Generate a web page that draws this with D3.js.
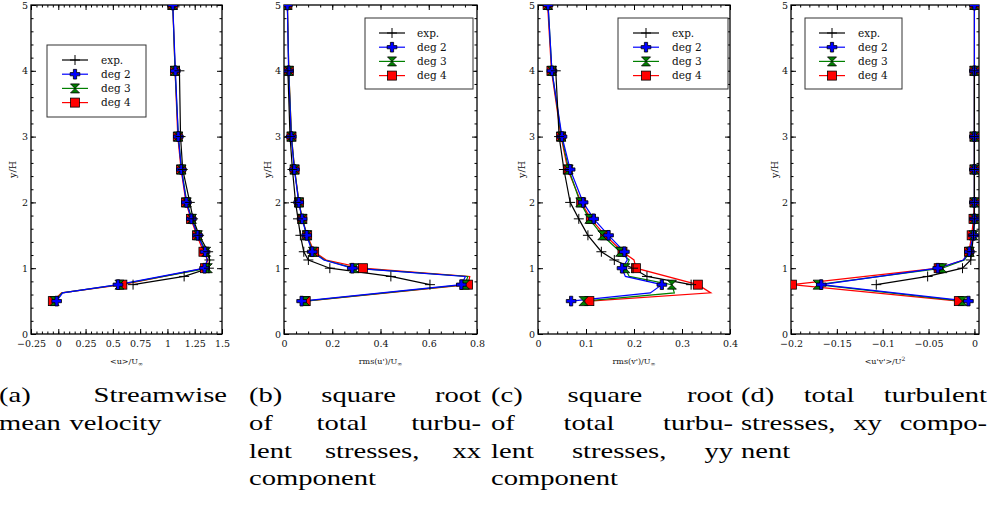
<!DOCTYPE html>
<html><head><meta charset="utf-8">
<script src="https://cdn.jsdelivr.net/npm/d3@7"></script>
<style>body{margin:0;background:#fff}svg{display:block}</style>
</head><body>
<script>
// ---------- data ----------
const simY    = [0.5, 0.625, 0.75, 0.875, 1, 1.125, 1.25, 1.5, 1.75, 2, 2.5, 3, 4, 5];
const markerY = [0.5, 0.75, 1, 1.25, 1.5, 1.75, 2, 2.5, 3, 4, 5];
const expY    = [0.75, 0.875, 1, 1.125, 1.25, 1.5, 1.75, 2, 2.5, 3, 4];
const yTicks  = [0, 1, 2, 3, 4, 5];

// (a) <u>/U
const uExp  = [0.685, 1.153, 1.38, 1.385, 1.373, 1.29, 1.235, 1.205, 1.14, 1.12, 1.11];
const uDeg2 = [-0.015, 0.04, 0.547, null, 1.34, 1.365, 1.345, 1.278, 1.22, 1.174, 1.128, 1.10, 1.073, 1.049];
const uDeg3 = [-0.034, 0.035, 0.56, null, 1.37, 1.39, 1.355, 1.28, 1.225, 1.178, 1.13, 1.10, 1.07, 1.049];
const uDeg4 = [-0.05, 0.03, 0.587, null, 1.345, 1.37, 1.33, 1.27, 1.215, 1.17, 1.125, 1.095, 1.07, 1.049];
const aTicks = [-0.25, 0, 0.25, 0.5, 0.75, 1, 1.25, 1.5];
const aLabels = ["\u22120.25", "0", "0.25", "0.5", "0.75", "1", "1.25", "1.5"];

// (b) rms(u')/U
const uuExp  = [0.605, 0.443, 0.19, 0.101, 0.082, 0.068, 0.058, 0.048, 0.035, 0.025, 0.016];
const uuDeg2 = [0.073, null, 0.735, 0.752, 0.283, 0.165, 0.117, 0.094, 0.075, 0.061, 0.043, 0.03, 0.019, 0.014];
const uuDeg3 = [0.087, null, 0.75, 0.762, 0.29, 0.168, 0.12, 0.095, 0.076, 0.062, 0.044, 0.031, 0.02, 0.014];
const uuDeg4 = [0.09, null, 0.763, 0.77, 0.327, 0.175, 0.125, 0.096, 0.076, 0.062, 0.044, 0.031, 0.02, 0.014];
const bTicks = [0, 0.2, 0.4, 0.6, 0.8];
const bLabels = ["0", "0.2", "0.4", "0.6", "0.8"];

// (c) rms(v')/U
const vvExp  = [0.319, 0.227, 0.198, 0.159, 0.132, 0.104, 0.085, 0.067, 0.054, 0.044, 0.037];
const vvDeg2 = [0.069, 0.234, 0.258, 0.182, 0.175, 0.186, 0.18, 0.147, 0.116, 0.094, 0.067, 0.05, 0.029, 0.021];
const vvDeg3 = [0.095, 0.284, 0.279, 0.19, 0.182, 0.19, 0.171, 0.134, 0.107, 0.088, 0.064, 0.049, 0.029, 0.021];
const vvDeg4 = [0.107, 0.36, 0.333, null, 0.204, 0.2, 0.176, 0.14, 0.11, 0.09, 0.062, 0.048, 0.028, 0.02];
const cTicks = [0, 0.1, 0.2, 0.3, 0.4];
const cLabels = ["0", "0.1", "0.2", "0.3", "0.4"];

// (d) <u'v'>/U^2
const uvExp  = [-0.107, -0.051, -0.013, -0.004, -0.003, -0.001, 0, 0, 0, 0, 0];
const uvDeg2 = [-0.0065, null, -0.167, null, -0.04, -0.012, -0.0055, -0.001, 0, 0, 0, 0, 0, 0];
const uvDeg3 = [-0.013, null, -0.171, null, -0.035, -0.011, -0.005, -0.001, 0, 0, 0, 0, 0, 0];
const uvDeg4 = [-0.017, null, -0.199, null, -0.039, -0.012, -0.006, -0.003, -0.001, 0, 0, 0, 0, 0];
const dTicks = [-0.2, -0.15, -0.1, -0.05, 0];
const dLabels = ["\u22120.2", "\u22120.15", "\u22120.1", "\u22120.05", "0"];

const seriesNames = ["exp.", "deg 2", "deg 3", "deg 4"];

const captionA = ["(a) Streamwise", "mean velocity"];
const captionB = ["(b) square root", "of total turbu-", "lent stresses, xx", "component"];
const captionC = ["(c) square root", "of total turbu-", "lent stresses, yy", "component"];
const captionD = ["(d) total turbulent", "stresses, xy compo-", "nent"];

// ---------- layout ----------
const W = 988, H = 514;
const svg = d3.select("body").append("svg").attr("width", W).attr("height", H);
const PT = 5, PB = 334;
const y = d3.scaleLinear().domain([0, 5]).range([PB, PT]);
const TF = "'DejaVu Serif', 'Liberation Serif', serif";

const panels = [
  {dom: [-0.25, 1.5], rng: [31, 222], ticks: aTicks, labels: aLabels, minor: 0.05,
   exp: uExp, d2: uDeg2, d3: uDeg3, d4: uDeg4, xl: ["<u>/U", "\u221E", "sub"], ylx: 13,
   leg: {x: 47, y: 45, w: 99, h: 72, lx: 62, tx: 101}},
  {dom: [0, 0.8], rng: [284, 477], ticks: bTicks, labels: bLabels, minor: 0.05,
   exp: uuExp, d2: uuDeg2, d3: uuDeg3, d4: uuDeg4, xl: ["rms(u')/U", "\u221E", "sub"], ylx: 268,
   leg: {x: 365, y: 18, w: 108, h: 71, lx: 379, tx: 417}},
  {dom: [0, 0.4], rng: [538, 730], ticks: cTicks, labels: cLabels, minor: 0.02,
   exp: vvExp, d2: vvDeg2, d3: vvDeg3, d4: vvDeg4, xl: ["rms(v')/U", "\u221E", "sub"], ylx: 522,
   leg: {x: 618, y: 18, w: 110, h: 71, lx: 633, tx: 672}},
  {dom: [-0.2, 0.005], rng: [791, 979], ticks: dTicks, labels: dLabels, minor: 0.01,
   exp: uvExp, d2: uvDeg2, d3: uvDeg3, d4: uvDeg4, xl: ["<u'v'>/U", "2", "sup"], ylx: 775,
   leg: {x: 805, y: 18, w: 97, h: 71, lx: 819, tx: 858}}
];

const COL = {exp: "#000", d2: "#0000ff", d3: "#008000", d4: "#ff0000"};

function drawMarker(g, type, cx, cy) {
  if (type === "exp") {
    g.append("path").attr("d", `M${cx-5},${cy}H${cx+5}M${cx},${cy-5}V${cy+5}`)
      .attr("stroke", "#000").attr("stroke-width", 1).attr("fill", "none");
  } else if (type === "d2") {
    g.append("path").attr("d", d3.symbol(d3.symbolCross, 52)())
      .attr("transform", `translate(${cx},${cy})`)
      .attr("fill", COL.d2).attr("stroke", "#000").attr("stroke-width", 0.8);
  } else if (type === "d3") {
    g.append("path").attr("d", `M${cx-4.5},${cy-4.5}L${cx+4.5},${cy-4.5}L${cx-4.5},${cy+4.5}L${cx+4.5},${cy+4.5}Z`)
      .attr("fill", COL.d3).attr("stroke", "#000").attr("stroke-width", 0.8);
  } else {
    g.append("rect").attr("x", cx-4.5).attr("y", cy-4.5).attr("width", 9).attr("height", 9)
      .attr("fill", COL.d4).attr("stroke", "#000").attr("stroke-width", 0.8);
  }
}

function minorTicks(dom, step) {
  const out = [];
  const n0 = Math.ceil(dom[0] / step - 1e-9), n1 = Math.floor(dom[1] / step + 1e-9);
  for (let k = n0; k <= n1; k++) out.push(+(k * step).toFixed(6));
  return out;
}
const yMinor = minorTicks([0, 5], 0.2);

panels.forEach(p => {
  const x = d3.scaleLinear().domain(p.dom).range(p.rng);
  const g = svg.append("g");
  const clipId = "clip" + p.rng[0];
  svg.append("clipPath").attr("id", clipId).append("rect")
    .attr("x", p.rng[0]).attr("y", PT).attr("width", p.rng[1] - p.rng[0]).attr("height", PB - PT);

  const xMinor = minorTicks(p.dom, p.minor);
  const styleAxis = a => { a.attr("font-family", null).attr("font-size", null);
    a.select(".domain").remove(); a.selectAll("line").attr("stroke", "#000").attr("stroke-width", 1);
    a.selectAll("text").style("font-family", TF).style("font-size", "9.5px").attr("fill", "#111"); };
  g.append("g").attr("transform", `translate(0,${PB})`)
    .call(d3.axisBottom(x).tickValues(p.ticks).tickSize(-5).tickPadding(6).tickFormat((d, i) => p.labels[i])).call(styleAxis);
  g.append("g").attr("transform", `translate(0,${PB})`)
    .call(d3.axisBottom(x).tickValues(xMinor).tickSize(-2.5).tickFormat("")).call(styleAxis);
  g.append("g").attr("transform", `translate(0,${PT})`)
    .call(d3.axisTop(x).tickValues(p.ticks).tickSize(-5).tickFormat("")).call(styleAxis);
  g.append("g").attr("transform", `translate(0,${PT})`)
    .call(d3.axisTop(x).tickValues(xMinor).tickSize(-2.5).tickFormat("")).call(styleAxis);
  g.append("g").attr("transform", `translate(${p.rng[0]},0)`)
    .call(d3.axisLeft(y).tickValues(yTicks).tickSize(-5).tickPadding(3).tickFormat(d3.format("d"))).call(styleAxis);
  g.append("g").attr("transform", `translate(${p.rng[0]},0)`)
    .call(d3.axisLeft(y).tickValues(yMinor).tickSize(-2.5).tickFormat("")).call(styleAxis);
  g.append("g").attr("transform", `translate(${p.rng[1]},0)`)
    .call(d3.axisRight(y).tickValues(yTicks).tickSize(-5).tickFormat("")).call(styleAxis);
  g.append("g").attr("transform", `translate(${p.rng[1]},0)`)
    .call(d3.axisRight(y).tickValues(yMinor).tickSize(-2.5).tickFormat("")).call(styleAxis);
  g.append("rect").attr("x", p.rng[0]).attr("y", PT).attr("width", p.rng[1] - p.rng[0]).attr("height", PB - PT)
    .attr("fill", "none").attr("stroke", "#000").attr("stroke-width", 1.3);

  // axis titles
  const xc = (p.rng[0] + p.rng[1]) / 2;
  const xt = g.append("text").attr("x", xc).attr("y", 364).attr("text-anchor", "middle")
    .style("font-family", TF).style("font-size", "8px").attr("fill", "#111").text(p.xl[0]);
  xt.append("tspan").style("font-size", "6px").attr("dy", p.xl[2] === "sub" ? 2 : -3).text(p.xl[1]);
  g.append("text").attr("transform", `translate(${p.ylx},${(PT + PB) / 2}) rotate(-90)`)
    .attr("text-anchor", "middle").attr("dy", "0.35em").style("font-family", TF).style("font-size", "9.5px")
    .attr("fill", "#111").text("y/H");

  // series
  const plot = g.append("g").attr("clip-path", `url(#${clipId})`);
  const line = d3.line().x(d => x(d[0])).y(d => y(d[1]));
  const simPts = arr => simY.map((yy, i) => [arr[i], yy]).filter(d => d[0] !== null);
  const order = ["d4", "d3", "d2"];
  order.forEach(k => plot.append("path").attr("d", line(simPts(p[k]))).attr("fill", "none")
    .attr("stroke", COL[k]).attr("stroke-width", 1.2));
  plot.append("path").attr("d", line(expY.map((yy, i) => [p.exp[i], yy]))).attr("fill", "none")
    .attr("stroke", "#000").attr("stroke-width", 1.2);
  order.forEach(k => simY.forEach((yy, i) => {
    if (markerY.includes(yy) && p[k][i] !== null) drawMarker(plot, k, x(p[k][i]), y(yy));
  }));
  expY.forEach((yy, i) => drawMarker(plot, "exp", x(p.exp[i]), y(yy)));

  // legend
  const L = p.leg;
  const lg = g.append("g");
  lg.append("rect").attr("x", L.x).attr("y", L.y).attr("width", L.w).attr("height", L.h)
    .attr("fill", "#fff").attr("stroke", "#333").attr("stroke-width", 1);
  ["exp", "d2", "d3", "d4"].forEach((k, i) => {
    const ry = L.y + 15 + i * 14.2;
    lg.append("line").attr("x1", L.lx).attr("x2", L.lx + 26).attr("y1", ry).attr("y2", ry)
      .attr("stroke", COL[k]).attr("stroke-width", 1.2);
    drawMarker(lg, k, L.lx + 13, ry);
    lg.append("text").attr("x", L.tx).attr("y", ry).attr("dy", "0.35em").style("font-family", TF)
      .style("font-size", "10.5px").attr("fill", "#111").text(seriesNames[i]);
  });
});

// ---------- captions ----------
const CF = "'Liberation Serif', 'DejaVu Serif', serif", CS = 22, SX = 1.3, LEAD = 27.8, BASE = 402;
function caption(lines, left, right) {
  const wLocal = (right - left) / SX;
  lines.forEach((ln, i) => {
    const g = svg.append("g").attr("transform", `translate(${left},${BASE + i * LEAD}) scale(${SX},1)`);
    const words = ln.split(" ");
    const justify = i < lines.length - 1 && words.length > 1;
    const ts = words.map(w => g.append("text").style("font-family", CF).style("font-size", CS + "px").attr("fill", "#000").text(w));
    const ws = ts.map(t => t.node().getComputedTextLength());
    const sum = d3.sum(ws);
    const gap = justify ? (wLocal - sum) / (words.length - 1) : CS * 0.3;
    let xx = 0;
    ts.forEach((t, j) => { t.attr("x", xx); xx += ws[j] + gap; });
  });
}
caption(captionA, -1, 227);
caption(captionB, 249, 481);
caption(captionC, 491, 733);
caption(captionD, 741, 987);
</script>
</body></html>
